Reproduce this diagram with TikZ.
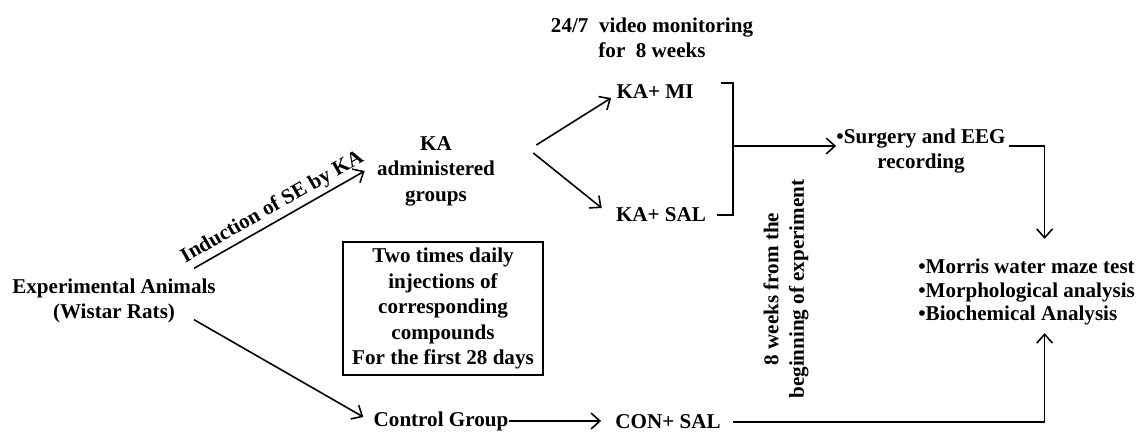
\documentclass[tikz,border=0pt]{standalone}
\usepackage{fontspec}
\setmainfont{Liberation Serif}
\usetikzlibrary{arrows.meta, calc}
\tikzset{
  txt/.style={font=\fontsize{12}{14.5}\selectfont\bfseries, inner sep=0pt, align=center},
  wire/.style={draw=black, line width=0.9pt},
  arrow/.style={wire, -{Straight Barb[length=5pt, width=9pt]}},
  % Framed note about the daily injections
  panel/.style={txt, draw, line width=0.9pt, minimum width=4cm, minimum height=2.66cm}
}

\begin{document}
\begin{tikzpicture}[x=0.02cm, y=-0.02cm]
  \useasboundingbox (0,0) rectangle (1141,433);

  % ---- Groups -------------------------------------------------------------
  \node[txt] (exp) at (114,301) {Experimental Animals\\(Wistar Rats)};
  \node[txt] (ka) at (436,171) {KA\\administered\\groups};
  \node[txt] (kami) at (655,92) {KA+ MI};
  \node[txt] (kasal) at (661,215) {KA+ SAL};
  \node[txt] (ctrl) at (441,421) {Control Group};
  \node[txt] (consal) at (668,422) {CON+ SAL};

  % ---- Notes --------------------------------------------------------------
  \node[txt] (video) at (652,38) {24/7\ \ video monitoring\\for\ \ 8 weeks};
  \node[panel] (inj) at (443,308.5)
        {Two times daily\\injections of\\corresponding\\compounds\\For the first 28 days};
  \node[txt, rotate=90] (weeks) at (786,289) {8 weeks from the\\beginning of experiment};

  % ---- Procedures ---------------------------------------------------------
  \node[txt] (surg) at (921,151) {•Surgery and EEG\\recording};
  \node[txt, font=\fontsize{12}{13.2}\selectfont\bfseries, align=left, anchor=west] (res) at (918,292)
        {•Morris water maze test\\•Morphological analysis\\•Biochemical Analysis};

  % ---- Branching ----------------------------------------------------------
  \draw[arrow] ([shift={(-22,-10)}]exp.north east)
        -- node[txt, sloped, above=2pt] {Induction of SE by KA} ([shift={(-12,0)}]ka.west);
  \draw[arrow] ([shift={(-22,-4)}]exp.south east) -- ([shift={(-10,-4)}]ctrl.west);
  \draw[arrow] ([shift={(41,-26)}]ka.east) -- ([shift={(-5,6)}]kami.west);
  \draw[arrow] ([shift={(38,-18)}]ka.east) -- ([shift={(-14,-7)}]kasal.west);

  % ---- Bracket joining the KA groups --------------------------------------
  \draw[wire] ([shift={(27,-9)}]kami.east) -- ++(12,0) |- ([shift={(11,0)}]kasal.east);
  \coordinate (join) at (732.5,146);
  \draw[arrow] (join) -- (join -| surg.west);

  % ---- Into the final tests -----------------------------------------------
  \draw[arrow] ($(surg.east |- join)+(3,0)$) -| ([shift={(18,-20)}]res.north);
  \draw[arrow] (ctrl.east) -- ($(ctrl.east -| consal.west)+(-14,0)$);
  \draw[arrow] ($(consal.east)+(12,0)$) -| ([shift={(18,8)}]res.south);

\end{tikzpicture}
\end{document}
